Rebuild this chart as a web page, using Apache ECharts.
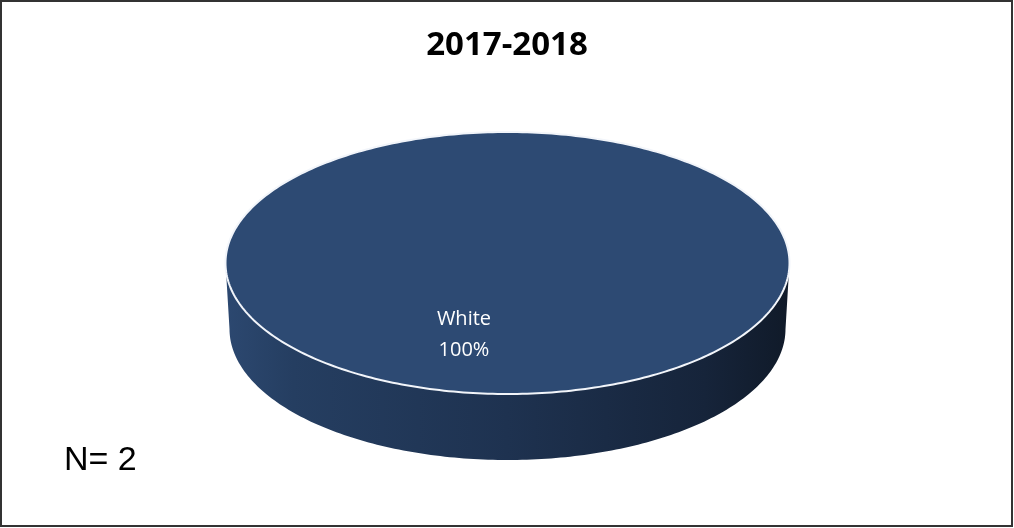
<!DOCTYPE html>
<html>
<head>
<meta charset="utf-8">
<script src="https://cdn.jsdelivr.net/npm/echarts@6/dist/echarts.min.js"></script>
<style>
html,body{margin:0;padding:0;background:#fff;}
#main{width:1014px;height:528px;}
</style>
</head>
<body>
<div id="main"></div>
<script>
var titleText = '2017-2018';
var categories = ['White'];
var counts = [2];
var noteText = 'N= 2';

var total = counts.reduce(function (a, b) { return a + b; }, 0);
var topColors = ['#2d4a73'];

var chart = echarts.init(document.getElementById('main'));

// layout of the tilted pie
var CX = 507.5, CY = 263, RX = 282, RY = 131, DEPTH = 66, START = -74;

function ell(a, rx, ry, cx, cy) {
  var r = a * Math.PI / 180;
  return [cx + rx * Math.cos(r), cy + ry * Math.sin(r)];
}
function arcPts(a0, a1, rx, ry, cx, cy) {
  var pts = [], n = Math.max(8, Math.ceil(Math.abs(a1 - a0) / 1));
  for (var i = 0; i <= n; i++) pts.push(ell(a0 + (a1 - a0) * i / n, rx, ry, cx, cy));
  return pts;
}

chart.setOption({
  animation: false,
  title: {
    text: titleText,
    left: 'center',
    top: 24,
    textStyle: { fontFamily: 'Open Sans', fontWeight: 'bold', fontSize: 33, color: '#000' }
  },
  graphic: [
    { type: 'rect', shape: { x: 1, y: 1, width: 1011, height: 525 }, style: { fill: 'none', stroke: '#333', lineWidth: 2 }, z: 100 },
    { type: 'text', left: 64, top: 444, style: { text: noteText, font: '34px "Liberation Sans", Arial, sans-serif', fill: '#000' } }
  ],
  series: [{
    type: 'custom',
    coordinateSystem: 'none',
    data: categories.map(function (c, i) { return { name: c, value: [counts[i], i] }; }),
    renderItem: function (params, api) {
      var idx = params.dataIndex;
      var before = 0;
      for (var k = 0; k < idx; k++) before += counts[k];
      var v = api.value(0);
      var a0 = START + before / total * 360;
      var a1 = START + (before + v) / total * 360;
      var full = (v / total) >= 0.9999;
      var children = [];
      // side (front half only: angles 0..180 in y-down coords)
      var segs = [];
      for (var off = -360; off <= 360; off += 360) {
        var s = Math.max(a0, off + 0), e = Math.min(a1, off + 180);
        if (e > s) segs.push([s, e]);
      }
      segs.forEach(function (sg) {
        var topArc = arcPts(sg[0], sg[1], RX, RY, CX, CY);
        var botArc = arcPts(sg[1], sg[0], RX - 4, RY, CX, CY + DEPTH);
        children.push({
          type: 'polygon',
          shape: { points: topArc.concat(botArc) },
          style: {
            fill: new echarts.graphic.LinearGradient(0, 0, 1, 0, [
              { offset: 0, color: '#2c4870' },
              { offset: 0.12, color: '#253e61' },
              { offset: 0.5, color: '#1e3250' },
              { offset: 0.85, color: '#16243a' },
              { offset: 1, color: '#101a29' }
            ]),
            stroke: null
          }
        });
      });
      // top face
      var topPts = full ? arcPts(0, 360, RX, RY, CX, CY)
                        : [[CX, CY]].concat(arcPts(a0, a1, RX, RY, CX, CY));
      children.push({
        type: 'polygon',
        shape: { points: topPts },
        style: { fill: topColors[idx % topColors.length], stroke: '#f2f5fa', lineWidth: 2 }
      });
      // label
      var mid = (a0 + a1) / 2;
      var lp = ell(mid, RX * 0.56, RY * 0.56, CX, CY);
      var pct = Math.round(v / total * 100) + '%';
      children.push({
        type: 'text',
        style: {
          text: categories[idx] + '\n' + pct,
          x: lp[0], y: lp[1] + 1,
          align: 'center', verticalAlign: 'middle',
          font: '20px "Open Sans", sans-serif',
          lineHeight: 31,
          fill: '#ffffff'
        },
        z2: 10
      });
      return { type: 'group', children: children };
    }
  }]
});
</script>
</body>
</html>
